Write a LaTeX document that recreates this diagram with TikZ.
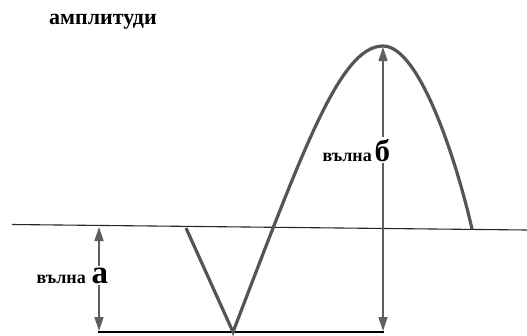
\documentclass[tikz,border=0pt]{standalone}
\usepackage{fontspec}
\setmainfont{Liberation Serif}
\usetikzlibrary{arrows.meta}
\definecolor{wavegray}{HTML}{555555}
\definecolor{arrowgray}{HTML}{5E5E5E}
\tikzset{
  wave/.style={draw=wavegray, line width=3.2pt, line cap=butt, line join=miter},
  measure/.style={draw=arrowgray, line width=1.4pt,
    {Triangle[length=14pt,width=9pt]}-{Triangle[length=14pt,width=9pt]}},
  axisline/.style={draw=black!85, line width=1.1pt},
  floorline/.style={draw=black, line width=2.4pt},
  lbl/.style={font=\bfseries\fontsize{18}{20}\selectfont, inner sep=0pt, anchor=base east},
  bigletter/.style={font=\bfseries, fill=white, inner sep=1.5pt, anchor=base west}
}
\begin{document}
\begin{tikzpicture}[x=1pt,y=-1pt]
\useasboundingbox[fill=white] (0,0) rectangle (527,335);
% title
\node[font=\bfseries\fontsize{22}{24}\selectfont, inner sep=0pt, anchor=base west] (title) at (49,24) {амплитуди};
% axis and floor
\coordinate (axL) at (12,224.5);
\coordinate (axR) at (527,230);
\draw[axisline] (axL) -- (axR);
\coordinate (flL) at (98,332);
\coordinate (flR) at (384,332);
\draw[floorline] (flL) -- (flR);
% wave
\coordinate (vtop) at (186,228);
\coordinate (vbot) at (233,332);
\coordinate (peak) at (383,46);
\coordinate (wend) at (472,229);
\draw[wave] (vtop) -- (vbot) .. controls (303,150) and (340,46) .. (peak)
  .. controls (420,46) and (457,163) .. (wend);
% measuring arrows
\coordinate (aTop) at (99,227);
\coordinate (aBot) at (99,331);
\draw[measure] (aTop) -- (aBot);
\coordinate (bTop) at (383,47);
\coordinate (bBot) at (383,331);
\draw[measure] (bTop) -- (bBot);
% labels
\node[bigletter, font=\bfseries\fontsize{33}{33}\selectfont] (la) at (90,283) {а};
\node[lbl] (lav) at (86,283) {вълна};
\node[bigletter, font=\bfseries\fontsize{31}{31}\selectfont, inner xsep=0.5pt] (lb) at (374,161) {б};
\node[lbl] (lbv) at (372,161) {вълна};
\end{tikzpicture}
\end{document}
